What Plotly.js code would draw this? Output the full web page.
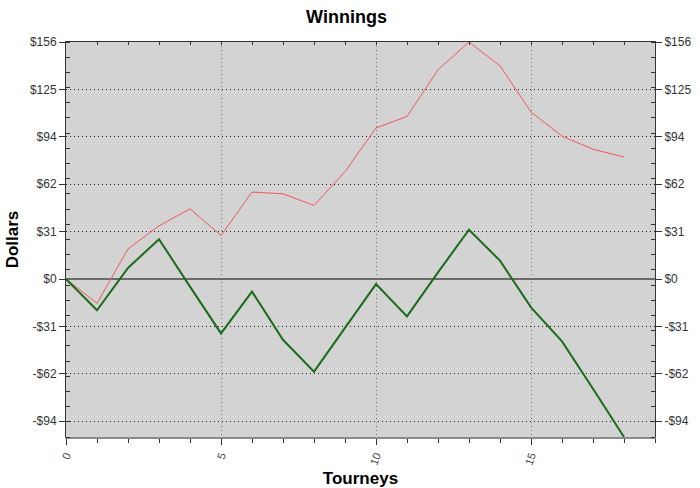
<!DOCTYPE html>
<html>
<head>
<meta charset="utf-8">
<script src="https://cdn.plot.ly/plotly-3.0.1.min.js"></script>
<style>html,body{margin:0;padding:0;background:#fff;}#chart{width:700px;height:488px;}</style>
</head>
<body>
<div id="chart"></div>
<script>
var tourneys = [0,1,2,3,4,5,6,7,8,9,10,11,12,13,14,15,16,17,18];
var redSeries = [0,-16,19.8,35,46.2,28.6,57.2,56.1,48.4,70.6,99.4,107,137.7,156,140.3,110,94,85.4,80.3];
var greenSeries = [0,-20.6,7.3,26.2,-5,-35.8,-8.3,-40,-61,-32,-3.4,-24.6,4.4,32.4,12.1,-18.7,-41.1,-72.2,-104];
var yTickVals = [-93.6,-62.4,-31.2,0,31.2,62.4,93.6,124.8,156];
var yTickText = ['-$94','-$62','-$31','$0','$31','$62','$94','$125','$156'];
var yRange = [-104,156];
var xRange = [0,19];

var font = 'Arial, "Liberation Sans", sans-serif';
var data = [
  {x: tourneys, y: redSeries, type:'scatter', mode:'lines', line:{color:'#f0585a', width:1}, hoverinfo:'skip', showlegend:false},
  {x: tourneys, y: greenSeries, type:'scatter', mode:'lines', line:{color:'#1a6b1a', width:2}, hoverinfo:'skip', showlegend:false},
  {x: tourneys, y: redSeries, xaxis:'x2', yaxis:'y2', type:'scatter', mode:'lines', line:{color:'rgba(0,0,0,0)', width:0}, hoverinfo:'skip', showlegend:false}
];
var layout = {
  width:700, height:488,
  margin:{l:66, r:45, t:42, b:51},
  paper_bgcolor:'#ffffff', plot_bgcolor:'#d3d3d3',
  font:{family:font, size:11, color:'#333'},
  title:{text:'<b>Winnings</b>', font:{family:font, size:18, color:'#000'}, x:0.495, xanchor:'center', y:0.965, yanchor:'middle'},
  xaxis:{
    range:xRange, tickvals:[0,5,10,15], ticktext:['0','5','10','15'], tickangle:-70,
    ticks:'outside', ticklen:6, tickcolor:'#333', tickfont:{size:11, color:'#444'},
    showline:true, linecolor:'#8a8a8a', linewidth:2,
    showgrid:true, gridcolor:'#777', griddash:'1px,3px', gridwidth:1,
    zeroline:false,
    minor:{dtick:1, tick0:0, ticks:'outside', ticklen:4, tickcolor:'#333', showgrid:false},
    title:{text:'<b>Tourneys</b>', font:{family:font, size:17, color:'#000'}, standoff:14}
  },
  xaxis2:{
    overlaying:'x', side:'top', range:xRange,
    showticklabels:false, ticks:'inside', ticklen:3, tickcolor:'#333', dtick:1, tick0:0,
    showline:true, linecolor:'#333', linewidth:1, showgrid:false, zeroline:false
  },
  yaxis:{
    range:yRange, tickvals:yTickVals, ticktext:yTickText,
    ticks:'outside', ticklen:6, tickcolor:'#333', tickfont:{size:12, color:'#333'},
    showline:true, linecolor:'#333', linewidth:1,
    showgrid:true, gridcolor:'#222', griddash:'1px,3px', gridwidth:1,
    zeroline:true, zerolinecolor:'#6a6a6a', zerolinewidth:2,
    minor:{tick0:-104, dtick:10, ticks:'inside', ticklen:4, tickcolor:'#333', showgrid:false},
    title:{text:'<b>Dollars</b>', font:{family:font, size:17, color:'#000'}, standoff:6}
  },
  yaxis2:{
    overlaying:'y', side:'right', range:yRange, tickvals:yTickVals, ticktext:yTickText,
    ticks:'outside', ticklen:6, tickcolor:'#333', tickfont:{size:12, color:'#333'},
    showline:true, linecolor:'#333', linewidth:1, showgrid:false, zeroline:false,
    minor:{tick0:-104, dtick:10, ticks:'inside', ticklen:4, tickcolor:'#333', showgrid:false}
  }
};
Plotly.newPlot('chart', data, layout, {staticPlot:true, displayModeBar:false});
</script>
</body>
</html>
